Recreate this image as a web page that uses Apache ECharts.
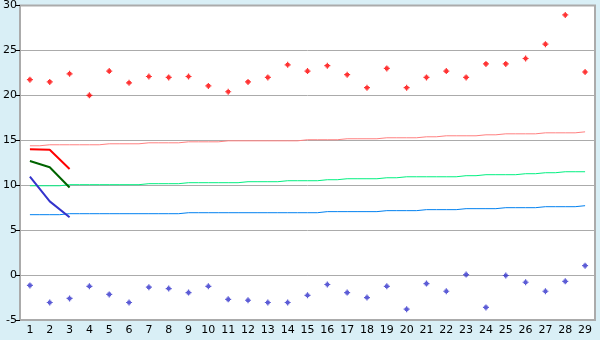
<!DOCTYPE html>
<html>
<head>
<meta charset="utf-8">
<script src="https://cdn.jsdelivr.net/npm/echarts@6/dist/echarts.min.js"></script>
<style>
html,body{margin:0;padding:0;background:#D9EFF6;}
#c{width:600px;height:340px;}
</style>
</head>
<body>
<div id="c"></div>
<script>
var categories = ['1','2','3','4','5','6','7','8','9','10','11','12','13','14','15','16','17','18','19','20','21','22','23','24','25','26','27','28','29'];
var yTicks = { min: -5, max: 30, interval: 5 };

var highPoints = [21.75, 21.5, 22.4, 20.0, 22.7, 21.4, 22.1, 22.0, 22.1, 21.05, 20.4, 21.5, 22.0, 23.4, 22.7, 23.3, 22.3, 20.85, 23.0, 20.85, 22.0, 22.7, 22.0, 23.5, 23.5, 24.1, 25.7, 28.95, 22.6];
var lowPoints = [-1.15, -3.05, -2.6, -1.25, -2.15, -3.05, -1.35, -1.5, -1.95, -1.25, -2.7, -2.8, -3.05, -3.05, -2.25, -1.05, -1.95, -2.5, -1.25, -3.8, -0.95, -1.8, 0.05, -3.6, -0.05, -0.8, -1.8, -0.7, 1.05];

var upperTrend = [14.39, 14.5, 14.5, 14.5, 14.61, 14.61, 14.72, 14.72, 14.83, 14.83, 14.94, 14.94, 14.94, 14.94, 15.06, 15.06, 15.17, 15.17, 15.28, 15.28, 15.39, 15.5, 15.5, 15.61, 15.72, 15.72, 15.83, 15.83, 15.94];
var middleTrend = [9.94, 9.94, 10.06, 10.06, 10.06, 10.06, 10.17, 10.17, 10.28, 10.28, 10.28, 10.39, 10.39, 10.5, 10.5, 10.61, 10.72, 10.72, 10.83, 10.94, 10.94, 10.94, 11.06, 11.17, 11.17, 11.28, 11.39, 11.5, 11.5];
var lowerTrend = [6.72, 6.72, 6.83, 6.83, 6.83, 6.83, 6.83, 6.83, 6.94, 6.94, 6.94, 6.94, 6.94, 6.94, 6.94, 7.06, 7.06, 7.06, 7.17, 7.17, 7.28, 7.28, 7.39, 7.39, 7.5, 7.5, 7.61, 7.61, 7.72];

var redStart = [14.0, 13.95, 11.8];
var greenStart = [12.7, 12.0, 9.75];
var blueStart = [10.96, 8.2, 6.44];

var marker = 'path://M1,1H2V0H3V1H4V2H5V3H4V4H3V5H2V4H1V3H0V2H1Z';

var chart = echarts.init(document.getElementById('c'), null, {renderer: 'canvas'});
function lineSeries(data, color, width, step) {
  return {
    type: 'line', data: data, step: step || false, symbol: 'none', silent: true,
    lineStyle: {color: color, width: width}, animation: false
  };
}
chart.setOption({
  animation: false,
  backgroundColor: '#D9EFF6',
  grid: {left: 20, right: 5, top: 5, bottom: 20, show: true, backgroundColor: '#ffffff', borderColor: '#ABABAB', borderWidth: 2, containLabel: false},
  xAxis: {
    type: 'category', data: categories, boundaryGap: true,
    axisLine: {lineStyle: {color: '#ABABAB', width: 1}},
    axisTick: {alignWithLabel: true, length: 5, lineStyle: {color: '#000000'}},
    axisLabel: {color: '#000000', fontFamily: 'DejaVu Sans', fontSize: 11, margin: 5, interval: 0},
    splitLine: {show: false}
  },
  yAxis: {
    type: 'value', min: yTicks.min, max: yTicks.max, interval: yTicks.interval,
    axisLine: {show: true, lineStyle: {color: '#ABABAB', width: 1}},
    axisTick: {show: true, length: 4, lineStyle: {color: '#000000'}},
    axisLabel: {color: '#000000', fontFamily: 'DejaVu Sans', fontSize: 11, margin: 3},
    splitLine: {lineStyle: {color: '#ABABAB', width: 1}}
  },
  series: [
    lineSeries(upperTrend, '#FF8080', 1, 'middle'),
    lineSeries(middleTrend, '#00F080', 1, 'middle'),
    lineSeries(lowerTrend, '#0080F0', 1, 'middle'),
    lineSeries(redStart, '#FF0000', 2),
    lineSeries(greenStart, '#006400', 2),
    lineSeries(blueStart, '#3333CC', 2),
    {type: 'scatter', data: highPoints, symbol: marker, symbolSize: 6, itemStyle: {color: '#FF0000'}, silent: true},
    {type: 'scatter', data: lowPoints, symbol: marker, symbolSize: 6, itemStyle: {color: '#3333CC'}, silent: true}
  ]
});
</script>
</body>
</html>
